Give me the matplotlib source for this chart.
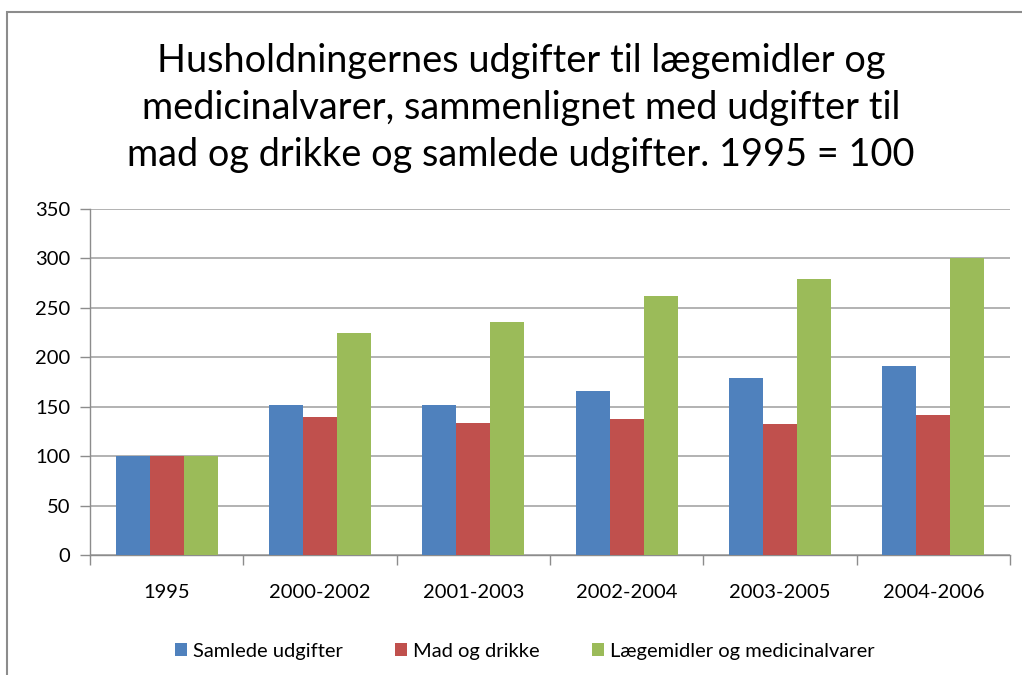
import matplotlib
matplotlib.use("Agg")
import matplotlib.pyplot as plt
import numpy as np
from matplotlib.patches import Rectangle

categories = ["1995", "2000-2002", "2001-2003", "2002-2004", "2003-2005", "2004-2006"]
series_names = ["Samlede udgifter", "Mad og drikke", "Lægemidler og medicinalvarer"]
samlede = [100, 152, 152, 166, 179, 191]
mad = [100, 140, 134, 138, 133, 142]
laege = [100, 225, 236, 262, 279, 300]
colors = ["#4F81BD", "#C0504D", "#9BBB59"]
title = "Husholdningernes udgifter til lægemidler og\nmedicinalvarer, sammenlignet med udgifter til\nmad og drikke og samlede udgifter. 1995 = 100"

plt.rcParams['font.family'] = ['Lato', 'DejaVu Sans']

W, H = 1022, 675
fig = plt.figure(figsize=(W/100, H/100), dpi=100)
ax = fig.add_axes([90/W, 1-555/H, (1010-90)/W, (555-209)/H])

x = np.arange(len(categories))
bw = 0.222
for i, (vals, c, name) in enumerate(zip([samlede, mad, laege], colors, series_names)):
    ax.bar(x + (i-1)*bw, vals, bw, color=c, label=name, zorder=3)

ax.set_xlim(-0.5, len(categories)-0.5)
ax.set_ylim(0, 350)
ax.set_yticks(range(0, 351, 50))
ax.yaxis.grid(True, color="#A6A6A6", linewidth=1.2, zorder=0)
ax.set_xticks(x)
ax.set_xticklabels(categories)
ax.set_xticks(np.arange(-0.5, len(categories), 1), minor=True)
ax.tick_params(axis='x', which='major', length=0, pad=21, labelsize=14.5, colors="#000000")
ax.tick_params(axis='x', which='minor', length=7, color="#8C8C8C", width=1)
ax.tick_params(axis='y', length=7, color="#8C8C8C", width=1, pad=7, labelsize=14.5)
for s in ['top', 'right']:
    ax.spines[s].set_visible(False)
for s in ['left', 'bottom']:
    ax.spines[s].set_color("#8C8C8C")
    ax.spines[s].set_linewidth(1)

fig.text(521/W, 1-108/H, title, ha='center', va='center', fontsize=27.3, linespacing=1.39)

leg = fig.legend(loc='center', bbox_to_anchor=(525/W, 1-651/H), ncol=3, frameon=False,
                 fontsize=14.5, handlelength=0.6, handleheight=0.6, handletextpad=0.3,
                 columnspacing=2.6)

fig.patches.append(Rectangle((7/W, -0.1), 1.2, 1-12/H+0.1, transform=fig.transFigure,
                             fill=False, edgecolor="#8C8C8C", linewidth=1.5))

fig.savefig("out.png", dpi=100)
